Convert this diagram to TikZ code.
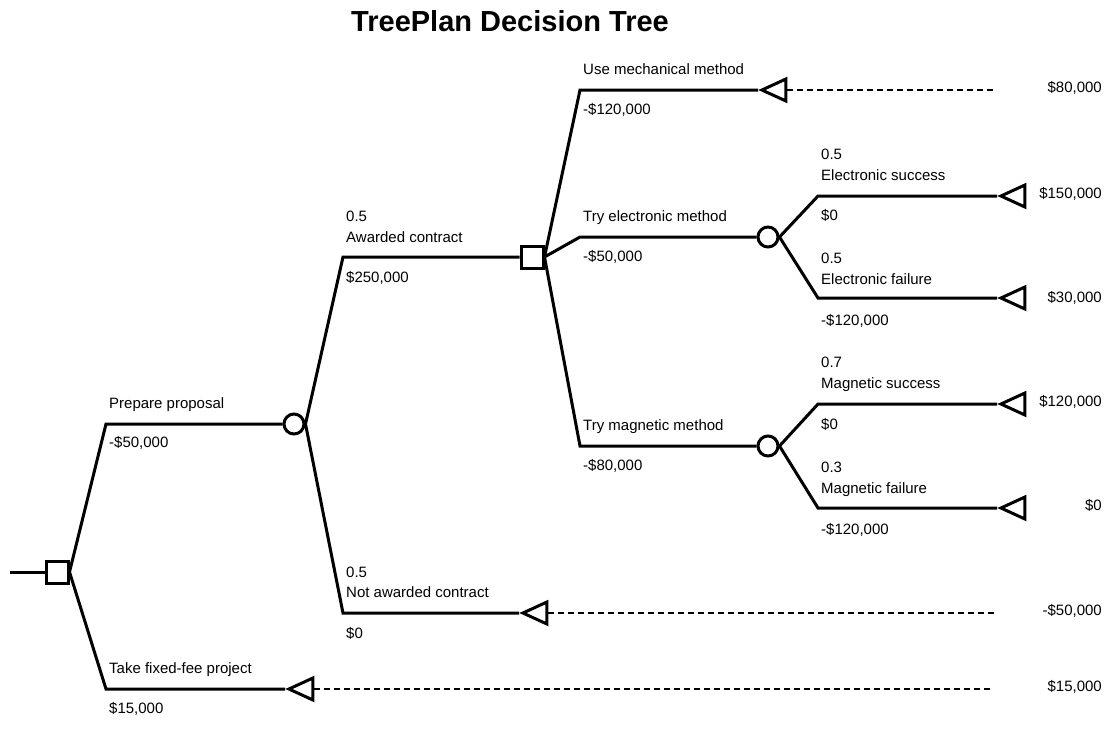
\documentclass[tikz,border=0pt]{standalone}
\usepackage{fontspec}
\setmainfont{Liberation Sans}
\usetikzlibrary{shapes.geometric}

\tikzset{
  branch/.style={line width=3pt},
  decbox/.style={draw,line width=3pt,rectangle,minimum size=22pt,inner sep=0pt,fill=white},
  chance/.style={draw,line width=3pt,circle,minimum size=20pt,inner sep=0pt,fill=white},
  endtri/.style={draw,line width=3pt,isosceles triangle,isosceles triangle stretches,
    shape border rotate=180,minimum width=22pt,minimum height=24pt,inner sep=0pt,anchor=apex},
  payoff/.style={dash pattern=on 6pt off 4pt,line width=1.4pt},
  lbl/.style={anchor=base west,inner sep=0pt,font=\fontsize{15}{17}\selectfont},
  val/.style={anchor=mid east,inner sep=0pt,font=\fontsize{15}{17}\selectfont},
}

\begin{document}
\begin{tikzpicture}[x=1pt,y=-1pt]
  \useasboundingbox (0,0) rectangle (1110,748);
  \node[anchor=base,inner sep=0pt,font=\fontsize{29}{32}\selectfont\bfseries] (title) at (510,31) {TreePlan Decision Tree};

  % root decision
  \coordinate (root) at (10,572);
  \node[decbox] (d1) at (57,572) {};
  \draw[branch] (root) -- (d1.west);

  % prepare proposal
  \coordinate (e11) at (106,424);
  \node[chance] (c1) at (294,424) {};
  \draw[branch] (d1.east) -- (e11) -- (c1.west);
  \node[lbl] (l11) at (109,408) {Prepare proposal};
  \node[lbl] (v11) at (109,447) {-\$50,000};

  % fixed fee
  \coordinate (e12) at (106,689);
  \node[endtri] (t1) at (285,689) {};
  \draw[branch] (d1.east) -- (e12) -- (t1.apex);
  \coordinate (x1) at (990,689);
  \draw[payoff] (t1.east) -- (x1);
  \node[lbl] (l12) at (109,673) {Take fixed-fee project};
  \node[lbl] (v12) at (109,713) {\$15,000};
  \node[val] (p1) at (1102,689) {\$15,000};

  % awarded contract
  \coordinate (e21) at (343,257);
  \node[decbox] (d2) at (532,257) {};
  \draw[branch] (c1.east) -- (e21) -- (d2.west);
  \node[lbl] (q21) at (346,221) {0.5};
  \node[lbl] (l21) at (346,242) {Awarded contract};
  \node[lbl] (v21) at (346,282) {\$250,000};

  % not awarded
  \coordinate (e22) at (343,613);
  \node[endtri] (t2) at (519,613) {};
  \draw[branch] (c1.east) -- (e22) -- (t2.apex);
  \coordinate (x2) at (995,613);
  \draw[payoff] (t2.east) -- (x2);
  \node[lbl] (q22) at (346,577) {0.5};
  \node[lbl] (l22) at (346,597) {Not awarded contract};
  \node[lbl] (v22) at (346,638) {\$0};
  \node[val] (p2) at (1102,613) {-\$50,000};

  % mechanical method
  \coordinate (e31) at (580,90);
  \node[endtri] (t3) at (758,90) {};
  \draw[branch] (d2.east) -- (e31) -- (t3.apex);
  \coordinate (x3) at (997,90);
  \draw[payoff] (t3.east) -- (x3);
  \node[lbl] (l31) at (583,74) {Use mechanical method};
  \node[lbl] (v31) at (583,114) {-\$120,000};
  \node[val] (p3) at (1102,90) {\$80,000};

  % electronic method
  \coordinate (e32) at (580,237);
  \node[chance] (c3) at (768,237) {};
  \draw[branch] (d2.east) -- (e32) -- (c3.west);
  \node[lbl] (l32) at (583,221) {Try electronic method};
  \node[lbl] (v32) at (583,261) {-\$50,000};

  % magnetic method
  \coordinate (e33) at (580,446);
  \node[chance] (c4) at (768,446) {};
  \draw[branch] (d2.east) -- (e33) -- (c4.west);
  \node[lbl] (l33) at (583,430) {Try magnetic method};
  \node[lbl] (v33) at (583,470) {-\$80,000};

  % electronic outcomes
  \coordinate (e41) at (818,196);
  \node[endtri] (t4) at (997,196) {};
  \draw[branch] (c3.east) -- (e41) -- (t4.apex);
  \node[lbl] (q41) at (821,159) {0.5};
  \node[lbl] (l41) at (821,180) {Electronic success};
  \node[lbl] (v41) at (821,220) {\$0};
  \node[val] (p4) at (1102,196) {\$150,000};

  \coordinate (e42) at (818,298);
  \node[endtri] (t5) at (997,298) {};
  \draw[branch] (c3.east) -- (e42) -- (t5.apex);
  \node[lbl] (q42) at (821,263) {0.5};
  \node[lbl] (l42) at (821,284) {Electronic failure};
  \node[lbl] (v42) at (821,325) {-\$120,000};
  \node[val] (p5) at (1102,300) {\$30,000};

  % magnetic outcomes
  \coordinate (e43) at (818,404);
  \node[endtri] (t6) at (997,404) {};
  \draw[branch] (c4.east) -- (e43) -- (t6.apex);
  \node[lbl] (q43) at (821,367) {0.7};
  \node[lbl] (l43) at (821,388) {Magnetic success};
  \node[lbl] (v43) at (821,429) {\$0};
  \node[val] (p6) at (1102,404) {\$120,000};

  \coordinate (e44) at (818,508);
  \node[endtri] (t7) at (997,508) {};
  \draw[branch] (c4.east) -- (e44) -- (t7.apex);
  \node[lbl] (q44) at (821,472) {0.3};
  \node[lbl] (l44) at (821,493) {Magnetic failure};
  \node[lbl] (v44) at (821,534) {-\$120,000};
  \node[val] (p7) at (1102,508) {\$0};
\end{tikzpicture}
\end{document}
